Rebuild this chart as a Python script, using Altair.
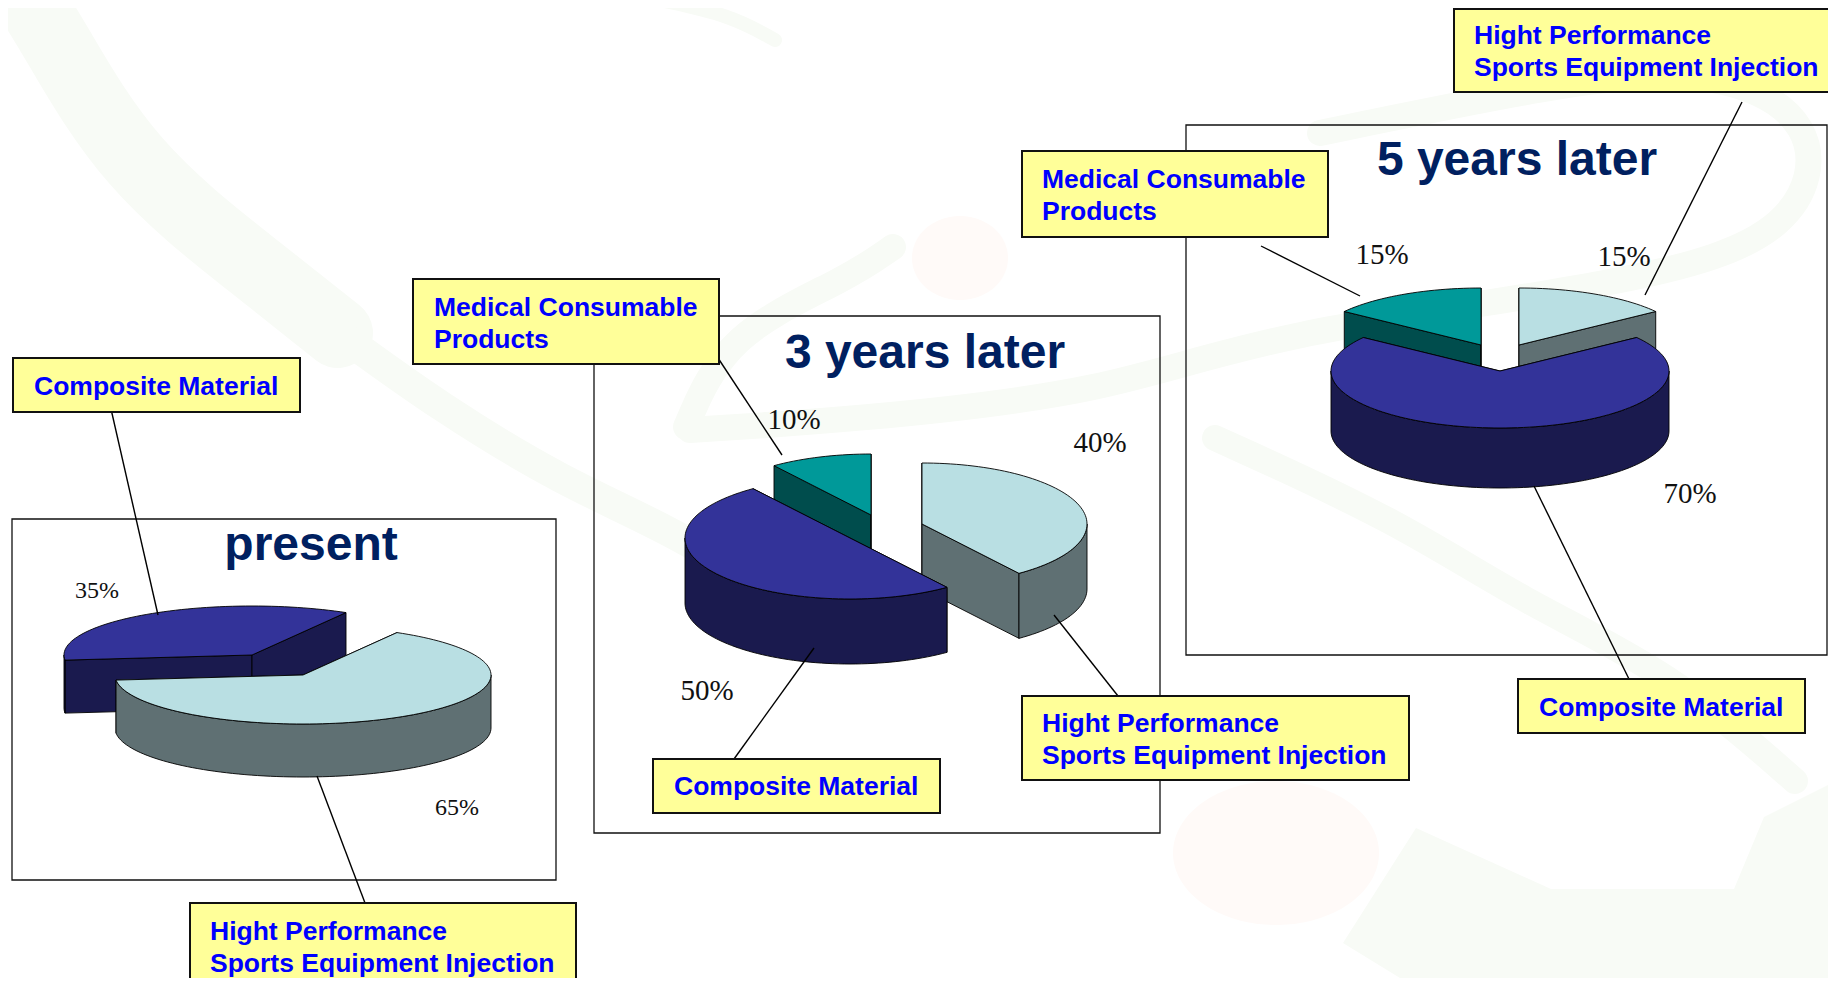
import math
import altair as alt
import pandas as pd

# ---- values
SERIES = ["Hight Performance", "Composite Material", "Medical Consumable"]
present_shares = {"Hight Performance": 65, "Composite Material": 35}
three_shares = {"Hight Performance": 40, "Composite Material": 50, "Medical Consumable": 10}
five_shares = {"Hight Performance": 15, "Composite Material": 70, "Medical Consumable": 15}

TOP = {"Hight Performance": "#B9DFE3", "Composite Material": "#333399", "Medical Consumable": "#009999"}
SIDE = {"Hight Performance": "#5F7073", "Composite Material": "#1A1A4E", "Medical Consumable": "#004D4D"}

titles = [("present", 311, 546), ("3 years later", 925, 354), ("5 years later", 1517, 161)]
pct_labels = [("35%", 97, 591, 24), ("65%", 457, 808, 24), ("10%", 794, 420, 29), ("50%", 707, 691, 29),
              ("40%", 1100, 443, 29), ("15%", 1382, 255, 29), ("15%", 1624, 257, 29), ("70%", 1690, 494, 29)]
frames = [(12, 556, 519, 880), (594, 1160, 316, 833), (1186, 1827, 125, 655)]
boxes = [(13, 300, 358, 412), (190, 576, 903, 994), (413, 719, 279, 364), (653, 940, 759, 813),
         (1022, 1409, 696, 780), (1022, 1328, 151, 237), (1454, 1840, 9, 92), (1518, 1805, 679, 733)]
box_texts = [("Composite Material", 34, 387), ("Hight Performance", 210, 932), ("Sports Equipment Injection", 210, 964),
             ("Medical Consumable", 434, 308), ("Products", 434, 340), ("Composite Material", 674, 787),
             ("Hight Performance", 1042, 724), ("Sports Equipment Injection", 1042, 756),
             ("Medical Consumable", 1042, 180), ("Products", 1042, 212),
             ("Hight Performance", 1474, 36), ("Sports Equipment Injection", 1474, 68),
             ("Composite Material", 1539, 708)]
leaders = [(111, 158, 409, 615), (317, 365, 776, 903), (718, 782, 358, 455), (814, 734, 648, 759),
           (1054, 1118, 615, 696), (1261, 1360, 246, 296), (1742, 1645, 102, 295), (1534, 1629, 486, 679)]

# (share table, draw order, radii, depth, start angle, slice centres)
pies = [
    (present_shares, ["Composite Material", "Hight Performance"], 188, 49, 53,
     {"Hight Performance": (60, 303, 675), "Composite Material": (186, 252, 655)}),
    (three_shares, ["Medical Consumable", "Hight Performance", "Composite Material"], 165, 61, 65,
     {"Hight Performance": (90, 922, 524), "Composite Material": (-54, 850, 538), "Medical Consumable": (126, 871, 515)}),
    (five_shares, ["Medical Consumable", "Hight Performance", "Composite Material"], 169, 57, 60,
     {"Hight Performance": (90, 1519, 345), "Composite Material": (36, 1500, 371), "Medical Consumable": (144, 1481, 345)}),
]

# faint logo behind the slide
wm_bands = [
    (70, [(30, 0), (51, 33), (128, 167), (255, 267), (338, 333)]),
    (30, [(338, 333), (441, 408), (563, 482), (665, 527), (770, 590)]),
    (14, [(660, 0), (730, 15), (775, 40)]),
    (26, [(686, 427), (726, 334), (849, 278), (893, 247)]),
    (26, [(690, 430), (850, 420), (1107, 393), (1267, 333), (1640, 283), (1800, 233), (1825, 120), (1700, 60), (1480, 100), (1320, 133)]),
    (26, [(1215, 438), (1398, 521), (1520, 600), (1672, 673), (1795, 781)]),
]
wm_patch = [(1416, 828), (1343, 943), (1400, 978), (1828, 978), (1828, 785), (1764, 817), (1734, 889), (1551, 889)]
wm_blobs = [(1276, 853, 103, 72), (960, 258, 48, 42)]


def ell(cx, cy, rx, ry, a, dy=0):
    r = math.radians(a)
    return (cx + rx * math.cos(r), cy - ry * math.sin(r) + dy)


def arc(cx, cy, rx, ry, a0, a1, dy=0):
    n = max(2, int(abs(a0 - a1) / 2))
    return [ell(cx, cy, rx, ry, a0 + (a1 - a0) * i / n, dy) for i in range(n + 1)]


rows = []


def add(points, color):
    pid = len(rows)
    rows.append(pd.DataFrame({
        "x": [p[0] for p in points], "y": [p[1] for p in points],
        "seq": range(len(points)), "pid": pid, "fillc": color}))


for shares, order, rx, ry, depth, centres in pies:
    for name in order:
        a0, cx, cy = centres[name]
        a1 = a0 - 3.6 * shares[name]
        side, top = SIDE[name], TOP[name]
        for a in (a0, a1):
            p = ell(cx, cy, rx, ry, a)
            add([(cx, cy), p, (p[0], p[1] + depth), (cx, cy + depth)], side)
        for k in (-1, 0, 1):
            lo, hi = max(a1, -180 + 360 * k), min(a0, 360 * k)
            if hi > lo:
                add(arc(cx, cy, rx, ry, hi, lo) + arc(cx, cy, rx, ry, lo, hi, depth), side)
        add([(cx, cy)] + arc(cx, cy, rx, ry, a0, a1), top)

polys = pd.concat(rows, ignore_index=True)

wm_lines = pd.concat([pd.DataFrame({"x": [p[0] for p in pts], "y": [p[1] for p in pts],
                                    "seq": range(len(pts)), "pid": i, "w": w})
                      for i, (w, pts) in enumerate(wm_bands)], ignore_index=True)
wm_fill = [pd.DataFrame({"x": [p[0] for p in wm_patch], "y": [p[1] for p in wm_patch],
                         "seq": range(len(wm_patch)), "pid": 0, "fillc": "#F8FBF6"})]
for i, (cx, cy, rx, ry) in enumerate(wm_blobs):
    pts = arc(cx, cy, rx, ry, 0, 360)
    wm_fill.append(pd.DataFrame({"x": [p[0] for p in pts], "y": [p[1] for p in pts],
                                 "seq": range(len(pts)), "pid": i + 1, "fillc": "#FFFAF8"}))
wm_fill = pd.concat(wm_fill, ignore_index=True)

X_SCALE = alt.Scale(domain=[8, 1828], nice=False, zero=False)
Y_SCALE = alt.Scale(domain=[978, 8], nice=False, zero=False)
X = alt.X("x:Q", scale=X_SCALE, axis=None)
Y = alt.Y("y:Q", scale=Y_SCALE, axis=None)
X2 = alt.X2("x2:Q")
Y2 = alt.Y2("y2:Q")


def rect_df(items):
    return pd.DataFrame(items, columns=["x", "x2", "y", "y2"])


def text_df(items):
    return pd.DataFrame(items, columns=["t", "x", "y"])


wm_area = alt.Chart(wm_fill).mark_line(interpolate="linear-closed", strokeWidth=0, clip=True).encode(
    x=X, y=Y, order="seq:Q", detail="pid:N", fill=alt.Fill("fillc:N", scale=None))
wm_band = alt.Chart(wm_lines).mark_line(interpolate="basis", color="#F8FBF6", strokeCap="round", clip=True).encode(
    x=X, y=Y, order="seq:Q", detail="pid:N", strokeWidth=alt.StrokeWidth("w:Q", scale=None))
frame_layer = alt.Chart(rect_df(frames)).mark_rect(fillOpacity=0, stroke="#111111", strokeWidth=1.3, clip=True).encode(
    x=X, x2=X2, y=Y, y2=Y2)
pie_layer = alt.Chart(polys).mark_line(interpolate="linear-closed", stroke="#000000", strokeWidth=0.9).encode(
    x=X, y=Y, order="seq:Q", detail="pid:N", fill=alt.Fill("fillc:N", scale=None))
leader_layer = alt.Chart(rect_df(leaders)).mark_rule(color="#000000", strokeWidth=1.4).encode(
    x=X, x2=X2, y=Y, y2=Y2)
box_layer = alt.Chart(rect_df(boxes)).mark_rect(fill="#FFFF99", stroke="#111111", strokeWidth=2, clip=True).encode(
    x=X, x2=X2, y=Y, y2=Y2)
box_text = alt.Chart(text_df(box_texts)).mark_text(
    align="left", baseline="middle", font="Liberation Sans", fontWeight="bold", fontSize=26.5, color="#0000FF"
).encode(x=X, y=Y, text="t:N")
title_text = alt.Chart(text_df(titles)).mark_text(
    align="center", baseline="middle", font="Liberation Sans", fontWeight="bold", fontSize=48, color="#002060"
).encode(x=X, y=Y, text="t:N")
pct_df = pd.DataFrame(pct_labels, columns=["t", "x", "y", "fs"])
pct_text = alt.Chart(pct_df).mark_text(
    align="center", baseline="middle", font="Liberation Serif", color="#111111"
).encode(x=X, y=Y, text="t:N", size=alt.Size("fs:Q", scale=None))

chart = alt.layer(
    wm_area, wm_band, frame_layer, pie_layer, leader_layer, box_layer, box_text, title_text, pct_text
).properties(width=1820, height=970, padding=0, background="#FFFFFF",
             autosize=alt.AutoSizeParams(type="none", contains="padding")).configure_view(stroke=None)

chart.save("out.html", embed_options={"renderer": "svg", "actions": False})
